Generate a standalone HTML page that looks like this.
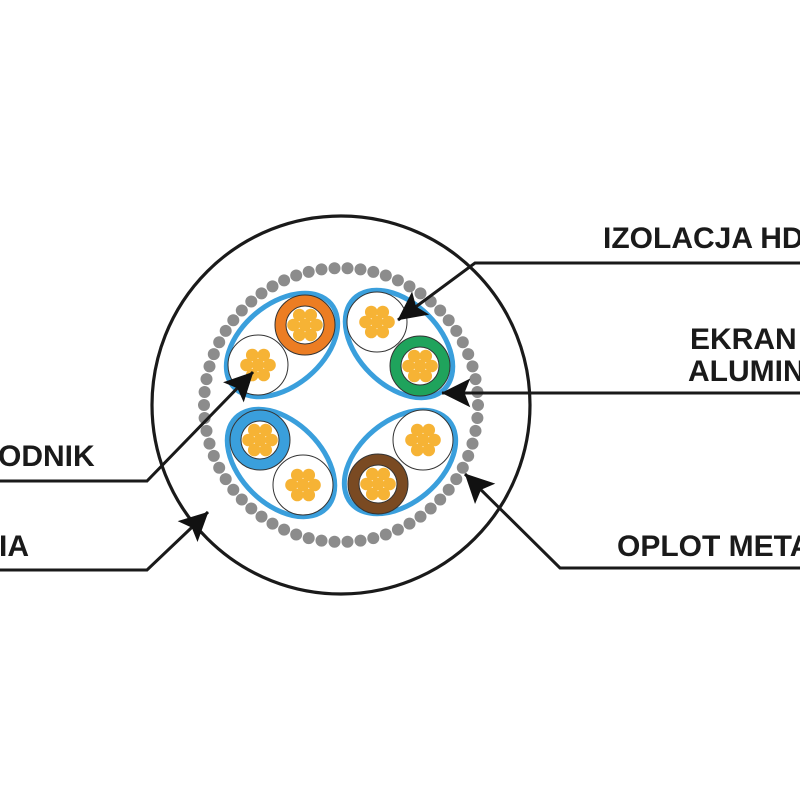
<!DOCTYPE html>
<html><head><meta charset="utf-8"><style>
html,body{margin:0;padding:0;background:#fff;}
svg{display:block}
text{font-family:"Liberation Sans",sans-serif;font-weight:bold;fill:#1a1a1a;font-size:30px}
</style></head><body>
<svg id="s" width="800" height="800" viewBox="0 0 800 800" xmlns="http://www.w3.org/2000/svg">
<defs>
<marker id="ar" viewBox="0 0 10 10" refX="9" refY="5" markerWidth="9" markerHeight="9" markerUnits="userSpaceOnUse" orient="auto" style="overflow:visible">
<path d="M0,0 L10,5 L0,10 L2,5 Z" fill="#111" transform="scale(3.2) translate(-7,-3.4)"/>
</marker>
<g id="str">
<circle cx="0" cy="0" r="6.3" fill="#f6b335"/>
<circle cx="11.5" cy="0" r="6.3" fill="#f6b335"/>
<circle cx="-11.5" cy="0" r="6.3" fill="#f6b335"/>
<circle cx="5.75" cy="10" r="6.3" fill="#f6b335"/>
<circle cx="-5.75" cy="10" r="6.3" fill="#f6b335"/>
<circle cx="5.75" cy="-10" r="6.3" fill="#f6b335"/>
<circle cx="-5.75" cy="-10" r="6.3" fill="#f6b335"/>
</g>
</defs>
<circle cx="341" cy="405" r="189" fill="none" stroke="#1a1a1a" stroke-width="3.2"/>
<g id="beads" fill="#8c8c8c"></g>
<ellipse cx="282" cy="345" rx="64" ry="41" transform="rotate(-40 282 345)" fill="none" stroke="#3a9fdc" stroke-width="5"/>
<ellipse cx="399" cy="344" rx="64" ry="41" transform="rotate(45 399 344)" fill="none" stroke="#3a9fdc" stroke-width="5"/>
<ellipse cx="281" cy="463" rx="64" ry="41" transform="rotate(45 281 463)" fill="none" stroke="#3a9fdc" stroke-width="5"/>
<ellipse cx="400" cy="462" rx="64" ry="41" transform="rotate(-40 400 462)" fill="none" stroke="#3a9fdc" stroke-width="5"/>
<g stroke="#333" stroke-width="1">
<circle cx="305" cy="325" r="30" fill="#ec7d23"/><circle cx="305" cy="325" r="19" fill="#fff"/>
<circle cx="258" cy="365" r="30" fill="#fff"/>
<circle cx="377" cy="322" r="30" fill="#fff"/>
<circle cx="420" cy="366" r="30" fill="#1fa35c"/><circle cx="420" cy="366" r="19" fill="#fff"/>
<circle cx="260" cy="440" r="30" fill="#3a9fdc"/><circle cx="260" cy="440" r="19" fill="#fff"/>
<circle cx="303" cy="485" r="30" fill="#fff"/>
<circle cx="423" cy="440" r="30" fill="#fff"/>
<circle cx="378" cy="484" r="30" fill="#7a4a22"/><circle cx="378" cy="484" r="19" fill="#fff"/>
</g>
<use href="#str" x="305" y="325"/><use href="#str" x="258" y="365"/>
<use href="#str" x="377" y="322"/><use href="#str" x="420" y="366"/>
<use href="#str" x="260" y="440"/><use href="#str" x="303" y="485"/>
<use href="#str" x="423" y="440"/><use href="#str" x="378" y="484"/>
<g fill="none" stroke="#1a1a1a" stroke-width="3">
<polyline points="800,263 475,263 398,320" marker-end="url(#ar)"/>
<polyline points="800,393 442,393" marker-end="url(#ar)"/>
<polyline points="0,481 147,481 253,372" marker-end="url(#ar)"/>
<polyline points="0,570 147,570 208,512" marker-end="url(#ar)"/>
<polyline points="800,568 560,568 465,474" marker-end="url(#ar)"/>
</g>
<text x="603" y="248">IZOLACJA HDPE</text>
<text x="690" y="349">EKRAN</text>
<text x="688" y="381">ALUMINIUM</text>
<text x="-2" y="466">ODNIK</text>
<text x="-1" y="556">IA</text>
<text x="617" y="556">OPLOT METALOWY</text>
</svg>
<script>
var g=document.getElementById('beads'),n=66,s='';
for(var i=0;i<n;i++){var a=2*Math.PI*i/n;s+='<circle cx="'+(341+137*Math.cos(a)).toFixed(1)+'" cy="'+(405+137*Math.sin(a)).toFixed(1)+'" r="6"/>';}
g.innerHTML=s;
</script>
</body></html>
